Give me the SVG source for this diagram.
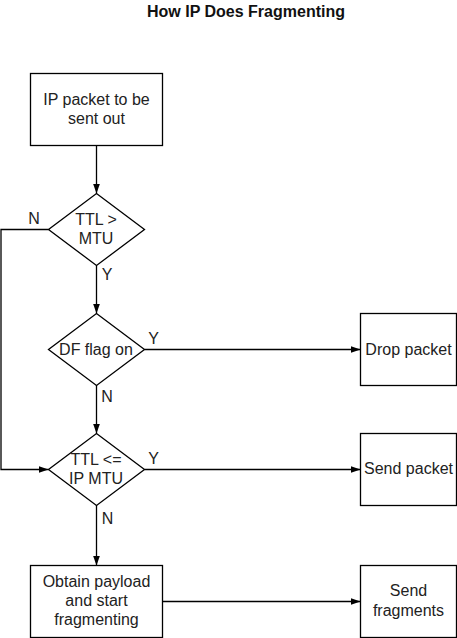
<svg xmlns="http://www.w3.org/2000/svg" width="457" height="638" viewBox="0 0 457 638">
<style>
.box{fill:#fff;stroke:#000;stroke-width:1.3}
.t{font-family:"Liberation Sans",Arial,sans-serif;font-size:16px;fill:#222;text-anchor:middle}
.lbl{font-family:"Liberation Sans",Arial,sans-serif;font-size:16px;fill:#222;text-anchor:middle}
.title{font-family:"Liberation Sans",Arial,sans-serif;font-size:16px;font-weight:bold;fill:#111;text-anchor:middle}
.c{fill:none;stroke:#000;stroke-width:1.3}
</style>
<defs>
<marker id="ah" viewBox="0 0 10 7" refX="10" refY="3.5" markerWidth="10" markerHeight="7" markerUnits="userSpaceOnUse" orient="auto">
<path d="M0,0 L10,3.5 L0,7 Z" fill="#000"/>
</marker>
</defs>
<rect width="457" height="638" fill="#fff"/>
<text class="title" x="246" y="17">How IP Does Fragmenting</text>
<g id="connectors">
<line class="c" x1="96.5" y1="145.5" x2="96.5" y2="193.5" marker-end="url(#ah)"/>
<line class="c" x1="96.5" y1="265.5" x2="96.5" y2="313.5" marker-end="url(#ah)"/>
<line class="c" x1="96.5" y1="385" x2="96.5" y2="433.5" marker-end="url(#ah)"/>
<line class="c" x1="96.5" y1="505" x2="96.5" y2="565.5" marker-end="url(#ah)"/>
<polyline class="c" points="48.5,229.5 1,229.5 1,469.5 48.5,469.5" marker-end="url(#ah)"/>
<line class="c" x1="144.5" y1="349.5" x2="360.5" y2="349.5" marker-end="url(#ah)"/>
<line class="c" x1="144.5" y1="469.5" x2="360.5" y2="469.5" marker-end="url(#ah)"/>
<line class="c" x1="162.5" y1="601.5" x2="360.5" y2="601.5" marker-end="url(#ah)"/>
<text class="lbl" x="34" y="224">N</text>
<text class="lbl" x="107" y="280">Y</text>
<text class="lbl" x="153.5" y="343.5">Y</text>
<text class="lbl" x="107" y="402">N</text>
<text class="lbl" x="153.5" y="463.5">Y</text>
<text class="lbl" x="107.5" y="523.5">N</text>
</g>
<g id="start">
<rect class="box" x="30.5" y="73.5" width="132" height="72"/>
<text class="t" x="96.5" y="104.5">IP packet to be</text>
<text class="t" x="96.5" y="123.5">sent out</text>
</g>
<g id="ttl-mtu">
<polygon class="box" points="96.5,193.5 144.5,229.5 96.5,265.5 48.5,229.5"/>
<text class="t" x="96" y="224.5">TTL &gt;</text>
<text class="t" x="96" y="243.5">MTU</text>
</g>
<g id="df-flag">
<polygon class="box" points="96.5,313.5 144.5,349.5 96.5,385.5 48.5,349.5"/>
<text class="t" x="96" y="354.5">DF flag on</text>
</g>
<g id="ttl-le-mtu">
<polygon class="box" points="96.5,433.5 144.5,469.5 96.5,505.5 48.5,469.5"/>
<text class="t" x="96" y="464.5">TTL &lt;=</text>
<text class="t" x="96" y="483.5">IP MTU</text>
</g>
<g id="fragment">
<rect class="box" x="30.5" y="565.5" width="132" height="72"/>
<text class="t" x="96.5" y="587">Obtain payload</text>
<text class="t" x="96.5" y="606">and start</text>
<text class="t" x="96.5" y="625">fragmenting</text>
</g>
<g id="drop">
<rect class="box" x="360.5" y="313.5" width="96" height="72"/>
<text class="t" x="408.5" y="354.5">Drop packet</text>
</g>
<g id="send-packet">
<rect class="box" x="360.5" y="433.5" width="96" height="72"/>
<text class="t" x="408.5" y="473.5">Send packet</text>
</g>
<g id="send-fragments">
<rect class="box" x="360.5" y="565.5" width="96" height="72"/>
<text class="t" x="408.5" y="596">Send</text>
<text class="t" x="408.5" y="615.5">fragments</text>
</g>
</svg>
